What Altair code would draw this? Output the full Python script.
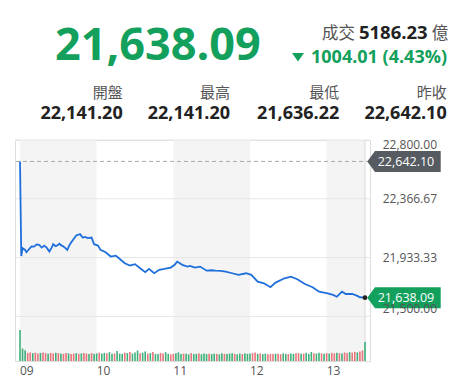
import altair as alt
import pandas as pd

# ---------------- data ----------------
last_price = 21638.09
change_pts = 1004.01
change_pct = 4.43
turnover = 5186.23            # 成交 (億)
prev_close = 22642.10

stat_labels = ["開盤", "最高", "最低", "昨收"]
stat_values = [22141.20, 22141.20, 21636.22, 22642.10]

# minutes after 09:00 and index level
price_min = [0, 1, 2, 4, 5, 7, 9, 11, 13, 15, 17, 19, 21, 23, 25, 26, 28, 29, 31, 32,
             34, 36, 37, 39, 41, 44, 47, 49, 51, 53, 56, 58, 61, 63, 67, 71, 75, 79, 82, 86,
             88, 90, 94, 98, 101, 105, 109, 113, 118, 121, 123, 127, 131, 133, 137, 141, 146, 150, 153, 157,
             161, 166, 171, 177, 181, 186, 191, 196, 200, 207, 212, 217, 223, 229, 234, 240, 245, 248, 252, 255,
             260, 264, 266, 270]
price_val = [22642.10, 21945, 22003, 21990, 21973, 21995, 22015, 22014, 22030, 22027,
             22007, 22022, 22005, 21978, 22010, 22032, 22018, 22022, 22035, 22025,
             22015, 22000, 21990, 22030, 22057, 22096, 22106, 22081, 22085, 22077,
             22081, 22032, 22022, 21990, 21973, 21941, 21948, 21916, 21892, 21874,
             21880, 21885, 21855, 21826, 21850, 21818, 21843, 21850, 21860, 21880,
             21904, 21880, 21867, 21872, 21860, 21867, 21837, 21840, 21837, 21835,
             21830, 21818, 21806, 21818, 21806, 21756, 21744, 21715, 21749, 21781,
             21793, 21774, 21739, 21715, 21682, 21671, 21658, 21645, 21682, 21665,
             21665, 21651, 21641, 21638.09]

y_ticks = [21500.00, 21933.33, 22366.67, 22800.00]
hour_ticks = [0, 60, 120, 180, 240]
hour_labels = ["09", "10", "11", "12", "13"]
band_start = [0, 120, 240]
band_end = [60, 180, 270]
session_end = 270

vol_min = list(range(0, 272, 2))
vol_val = [130, 52, 45, 34, 36, 33, 35, 31, 34, 36, 33, 30, 34, 32, 35,
           33, 31, 30, 34, 32, 29, 31, 33, 30, 32, 34, 31, 29, 33, 30,
           32, 35, 31, 34, 33, 37, 30, 32, 42, 31, 30, 35, 33, 38, 31,
           36, 44, 32, 35, 40, 31, 33, 38, 30, 29, 34, 31, 37, 30, 28,
           30, 32, 36, 29, 31, 30, 28, 33, 29, 30, 32, 28, 31, 29, 30,
           29, 31, 30, 28, 32, 30, 29, 31, 33, 30, 28, 31, 29, 32, 30,
           31, 33, 36, 30, 32, 29, 31, 28, 30, 29, 31, 30, 28, 32, 30,
           29, 31, 30, 32, 33, 30, 31, 34, 30, 38, 33, 31, 35, 32, 30,
           33, 31, 34, 32, 35, 33, 31, 36, 34, 37, 35, 38, 36, 40, 44,
           80]
vol_dir = ("gggrrgrrgrrgrrg" "rgrrgrrgrgrrgrg" "grggrggrgggrgrg"
           "ggrggrgrggrrggr" "rgggrggrggrgggr" "ggrggrgggrggrgg"
           "grrgrggrrrgrrgg" "rggrrgrgggrggrg" "rgrrgrgrrgrrgrr" "g")

# ---------------- styling ----------------
FONT = "'Open Sans', 'Noto Sans CJK TC', sans-serif"
GREEN = "#12a05c"
RED_VOL = "#e8656d"
GREEN_VOL = "#27a86c"
BLUE = "#1e6fdc"
GRAY_TXT = "#555555"
DARK = "#222222"
W, H = 355, 221

price_df = pd.DataFrame({"t": price_min, "v": price_val})
vol_df = pd.DataFrame({"t": vol_min, "vol": vol_val,
                       "c": [GREEN_VOL if d == "g" else RED_VOL for d in vol_dir]})
band_df = pd.DataFrame({"s": band_start, "e": band_end})
ytick_df = pd.DataFrame({"v": y_ticks, "lab": [f"{v:,.2f}" for v in y_ticks]})
xtick_df = pd.DataFrame({"t": hour_ticks, "lab": hour_labels})
box_df = pd.DataFrame({
    "t": [session_end, session_end],
    "v": [prev_close, last_price],
    "c": ["#555b61", GREEN],
    "txt": [f"{prev_close:,.2f}", f"{last_price:,.2f}"],
})

x_scale = alt.Scale(domain=[0, session_end], nice=False, zero=False)
y_scale = alt.Scale(domain=[21171.3, 22800], nice=False, zero=False)
X = alt.X("t:Q", scale=x_scale, axis=None)
Y = alt.Y("v:Q", scale=y_scale, axis=None)

bands = alt.Chart(band_df).mark_rect(color="#f4f4f4").encode(
    x=alt.X("s:Q", scale=x_scale, axis=None),
    x2="e:Q",
    y=alt.value(0),
    y2=alt.value(H),
)

grid = alt.Chart(ytick_df).mark_rule(color="#e6e6e6", strokeWidth=1).encode(y=Y)

right_line = alt.Chart(pd.DataFrame({"t": [session_end]})).mark_rule(
    color="#d9d9d9", strokeWidth=1).encode(x=X)

vol = alt.Chart(vol_df).mark_bar(size=1.6, opacity=0.9).encode(
    x=X,
    y=alt.Y("vol:Q", scale=alt.Scale(domain=[0, 927], nice=False), axis=None),
    color=alt.Color("c:N", scale=None),
)

prev_rule = alt.Chart(pd.DataFrame({"v": [prev_close]})).mark_rule(
    color="#aaaaaa", strokeDash=[4, 3], strokeWidth=1
).encode(y=Y)

line = alt.Chart(price_df).mark_line(color=BLUE, strokeWidth=1.8).encode(x=X, y=Y)

dot = alt.Chart(price_df.tail(1)).mark_circle(color="#222222", size=24, opacity=1).encode(x=X, y=Y)


def ylab(sel, baseline):
    return alt.Chart(ytick_df).transform_filter(sel).mark_text(
        align="left", baseline=baseline, dx=12.7, font=FONT, fontSize=12, color=GRAY_TXT
    ).encode(x=alt.value(W), y=Y, text="lab:N")


ylabels = [
    ylab("datum.v >= 22799", "top"),
    ylab("datum.v < 22799 && datum.v > 21501", "middle"),
    ylab("datum.v <= 21501", "bottom"),
]

xlabels = alt.Chart(xtick_df).mark_text(
    align="left", baseline="top", font=FONT, fontSize=12, color=GRAY_TXT
).encode(x=X, y=alt.value(H + 5), text="lab:N")

BOX_PATH = "M 2.3 0 L 10 -10.5 L 75.7 -10.5 L 75.7 10.5 L 10 10.5 Z"
boxes = alt.Chart(box_df).mark_point(shape=BOX_PATH, size=4, filled=True, opacity=1,
                                     strokeWidth=0).encode(
    x=X, y=Y, color=alt.Color("c:N", scale=None),
)
box_txt = alt.Chart(box_df).mark_text(align="left", baseline="middle", dx=12.7, dy=0.5,
                                      font=FONT, fontSize=12.5, color="#ffffff").encode(
    x=X, y=Y, text="txt:N",
)


def txt(text, x, y, size, color, weight="normal", align="left", baseline="alphabetic"):
    return alt.Chart(pd.DataFrame({"s": [text]})).mark_text(
        align=align, baseline=baseline, font=FONT, fontSize=size,
        fontWeight=weight, color=color
    ).encode(x=alt.value(x), y=alt.value(y), text="s:N")


header = [
    txt(f"{last_price:,.2f}", 40, -80, 45, GREEN, "bold"),
    txt("成交", 340, -101, 16.5, GRAY_TXT, align="right"),
    txt(f"{turnover:.2f}", 412.7, -100.7, 18.5, DARK, "bold", align="right"),
    txt("億", 433.3, -101, 16.5, GRAY_TXT, align="right"),
    txt(f"{change_pts:.2f} ({change_pct:.2f}%)", 432, -76.7, 18, GREEN, "bold", align="right"),
]
tri = alt.Chart(pd.DataFrame({"s": ["down"]})).mark_point(
    shape="M -6 -4 L 6 -4 L 0 4.5 Z", size=4, filled=True, opacity=1,
    color=GREEN, strokeWidth=0
).encode(x=alt.value(283), y=alt.value(-83))
header.append(tri)

col_right = [107.7, 215, 324.3, 431.7]
for lab, val, xr in zip(stat_labels, stat_values, col_right):
    header.append(txt(lab, xr, -47.5, 15, GRAY_TXT, align="right", baseline="middle"))
    header.append(txt(f"{val:,.2f}", xr, -26, 18, DARK, "bold", align="right", baseline="middle"))

chart = alt.layer(
    bands, grid, right_line, vol, prev_rule, line, dot, boxes, box_txt,
    *ylabels, xlabels, *header
).resolve_scale(
    y="independent"
).properties(
    width=W, height=H,
    padding={"left": 7, "top": 132, "right": 92, "bottom": 18},
    autosize=alt.AutoSizeParams(type="none"),
).configure_view(stroke=None).configure(background="#ffffff")

chart.save("out.html", embed_options={"renderer": "svg", "actions": False})
